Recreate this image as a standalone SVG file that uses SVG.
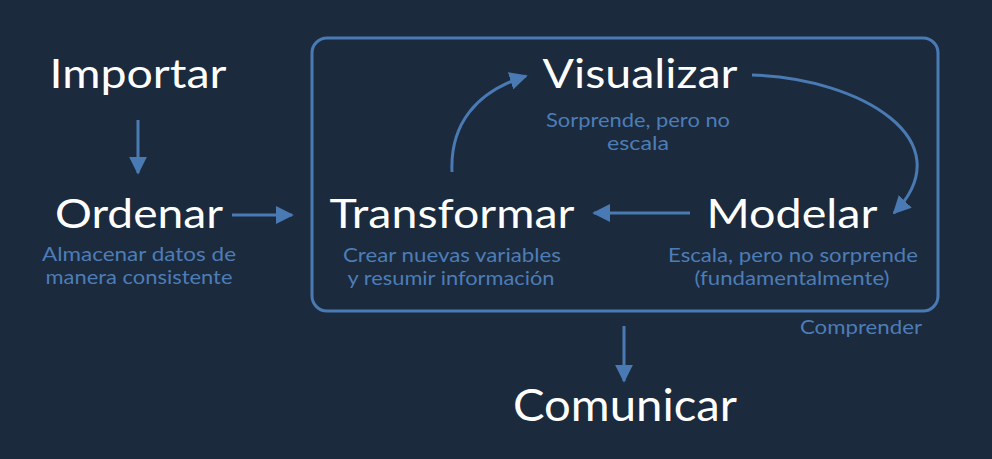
<svg xmlns="http://www.w3.org/2000/svg" width="992" height="459" viewBox="0 0 992 459">
<defs>
<style>
.t{font-family:Lato,"Open Sans","Liberation Sans",sans-serif;fill:#ffffff;font-size:41px;text-anchor:middle}
.s{font-family:Lato,"Open Sans","Liberation Sans",sans-serif;fill:#4d7db7;font-size:19px;text-anchor:middle}
.c{fill:none;stroke:#4a7ab4;stroke-width:3}
</style>
<marker id="ah" viewBox="0 0 10 10" refX="9" refY="5" markerWidth="6" markerHeight="6" markerUnits="strokeWidth" orient="auto">
<path d="M0,0 L10,5 L0,10 z" fill="#4a7ab4"/>
</marker>
</defs>
<rect width="992" height="459" fill="#1b2a3d"/>
<g id="comprender">
<rect x="312" y="38" width="626" height="273" rx="15" fill="none" stroke="#4a7ab4" stroke-width="3"/>
<text class="s" x="861" y="334" textLength="122" lengthAdjust="spacingAndGlyphs">Comprender</text>
</g>
<g id="importar"><text class="t" x="138" y="88" textLength="177" lengthAdjust="spacingAndGlyphs">Importar</text></g>
<g id="ordenar">
<text class="t" x="139" y="228" textLength="168" lengthAdjust="spacingAndGlyphs">Ordenar</text>
<text class="s" x="139" y="261" textLength="194" lengthAdjust="spacingAndGlyphs">Almacenar datos de</text>
<text class="s" x="139" y="284" textLength="187" lengthAdjust="spacingAndGlyphs">manera consistente</text>
</g>
<g id="visualizar">
<text class="t" x="640" y="88" textLength="195" lengthAdjust="spacingAndGlyphs">Visualizar</text>
<text class="s" x="638" y="127" textLength="184" lengthAdjust="spacingAndGlyphs">Sorprende, pero no</text>
<text class="s" x="638" y="150" textLength="62" lengthAdjust="spacingAndGlyphs">escala</text>
</g>
<g id="transformar">
<text class="t" x="452" y="228" textLength="245" lengthAdjust="spacingAndGlyphs">Transformar</text>
<text class="s" x="452" y="262" textLength="218" lengthAdjust="spacingAndGlyphs">Crear nuevas variables</text>
<text class="s" x="451" y="285" textLength="207" lengthAdjust="spacingAndGlyphs">y resumir información</text>
</g>
<g id="modelar">
<text class="t" x="792" y="228" textLength="171" lengthAdjust="spacingAndGlyphs">Modelar</text>
<text class="s" x="793" y="262" textLength="250" lengthAdjust="spacingAndGlyphs">Escala, pero no sorprende</text>
<text class="s" x="792" y="285" textLength="195" lengthAdjust="spacingAndGlyphs">(fundamentalmente)</text>
</g>
<g id="comunicar"><text class="t" x="625" y="421" style="font-size:44px" textLength="224" lengthAdjust="spacingAndGlyphs">Comunicar</text></g>
<g id="connectors">
<path class="c" d="M138,120 L138,173" marker-end="url(#ah)"/>
<path class="c" d="M232,215 L292,215" marker-end="url(#ah)"/>
<path class="c" d="M690,213 L594,213" marker-end="url(#ah)"/>
<path class="c" d="M452,172 C450,125 475,92 526,76" marker-end="url(#ah)"/>
<path class="c" d="M752,75 C860,78 965,140 894,213" marker-end="url(#ah)"/>
<path class="c" d="M624,326 L624,381" marker-end="url(#ah)"/>
</g>
</svg>
